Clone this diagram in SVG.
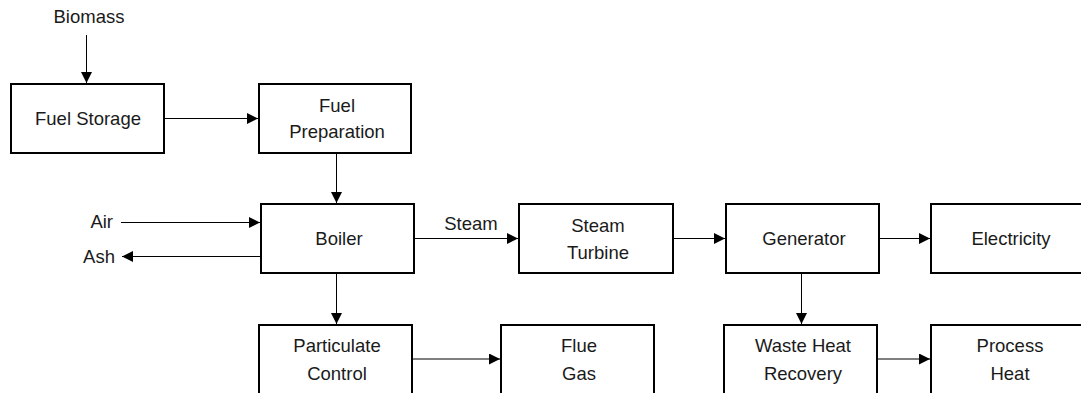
<svg xmlns="http://www.w3.org/2000/svg" width="1081" height="393" viewBox="0 0 1081 393">
<defs>
<style>
.box{fill:#fff;stroke:#000;stroke-width:2}
.t{font-family:"Liberation Sans",Arial,sans-serif;font-size:18.5px;fill:#1a1a1a;text-anchor:middle}
.te{font-family:"Liberation Sans",Arial,sans-serif;font-size:18.5px;fill:#1a1a1a;text-anchor:end}
.c{stroke:#000;stroke-width:1;fill:none}
</style>
<marker id="ah" markerWidth="12" markerHeight="11" refX="11" refY="5.5" orient="auto" markerUnits="userSpaceOnUse"><path d="M0,0 L11,5.5 L0,11 z" fill="#000"/></marker>
</defs>
<rect width="1081" height="393" fill="#fff"/>
<g id="connectors">
<line class="c" x1="86.5" y1="35" x2="86.5" y2="83" marker-end="url(#ah)"/>
<line class="c" x1="165" y1="118.5" x2="258" y2="118.5" marker-end="url(#ah)"/>
<line class="c" x1="336.5" y1="154" x2="336.5" y2="203" marker-end="url(#ah)"/>
<line class="c" x1="121" y1="222.5" x2="260" y2="222.5" marker-end="url(#ah)"/>
<line class="c" x1="260" y1="256.5" x2="122" y2="256.5" marker-end="url(#ah)"/>
<line class="c" x1="415" y1="238.5" x2="518" y2="238.5" marker-end="url(#ah)"/>
<line class="c" x1="674" y1="238.5" x2="725" y2="238.5" marker-end="url(#ah)"/>
<line class="c" x1="880" y1="238.5" x2="930" y2="238.5" marker-end="url(#ah)"/>
<line class="c" x1="336.5" y1="274" x2="336.5" y2="324" marker-end="url(#ah)"/>
<line class="c" x1="801.5" y1="274" x2="801.5" y2="324" marker-end="url(#ah)"/>
<line class="c" x1="413" y1="359" x2="500" y2="359" marker-end="url(#ah)"/>
<line class="c" x1="878" y1="359" x2="930" y2="359" marker-end="url(#ah)"/>
<text class="t" x="89" y="23">Biomass</text>
<text class="te" x="113" y="228">Air</text>
<text class="te" x="115" y="263">Ash</text>
<text class="t" x="471" y="230">Steam</text>
</g>
<g id="fuel-storage"><rect class="box" x="11" y="84" width="153" height="69"/><text class="t" x="88" y="124.5">Fuel Storage</text></g>
<g id="fuel-preparation"><rect class="box" x="259" y="84" width="152" height="69"/><text class="t" x="337" y="112">Fuel</text><text class="t" x="337" y="138">Preparation</text></g>
<g id="boiler"><rect class="box" x="261" y="204" width="153" height="69"/><text class="t" x="339" y="245">Boiler</text></g>
<g id="steam-turbine"><rect class="box" x="519" y="204" width="154" height="69"/><text class="t" x="598" y="232">Steam</text><text class="t" x="598" y="259">Turbine</text></g>
<g id="generator"><rect class="box" x="726" y="204" width="153" height="69"/><text class="t" x="804" y="245">Generator</text></g>
<g id="electricity"><rect class="box" x="931" y="204" width="160" height="69"/><text class="t" x="1011" y="245">Electricity</text></g>
<g id="particulate-control"><rect class="box" x="259" y="325" width="153" height="69"/><text class="t" x="337" y="352">Particulate</text><text class="t" x="337" y="380">Control</text></g>
<g id="flue-gas"><rect class="box" x="501" y="325" width="153" height="69"/><text class="t" x="579" y="352">Flue</text><text class="t" x="579" y="380">Gas</text></g>
<g id="waste-heat-recovery"><rect class="box" x="724" y="325" width="153" height="69"/><text class="t" x="803" y="352">Waste Heat</text><text class="t" x="803" y="380">Recovery</text></g>
<g id="process-heat"><rect class="box" x="931" y="325" width="160" height="69"/><text class="t" x="1010" y="352">Process</text><text class="t" x="1010" y="380">Heat</text></g>
</svg>
